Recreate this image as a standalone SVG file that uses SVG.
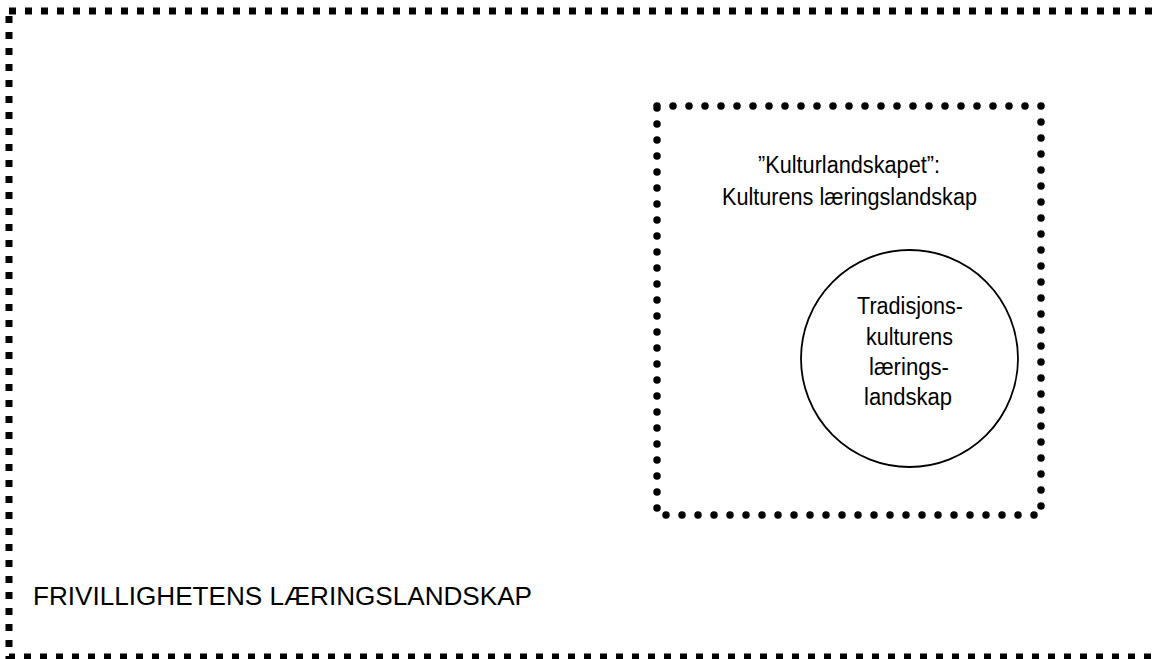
<svg xmlns="http://www.w3.org/2000/svg" width="1157" height="659" viewBox="0 0 1157 659">
<style>
text{font-family:"Liberation Sans",Arial,sans-serif;fill:#000}
.outer{fill:none;stroke:#000;stroke-width:7;stroke-dasharray:7 9}
.inner{fill:none;stroke:#000;stroke-width:7.5;stroke-linecap:round;stroke-dasharray:0 16}
.circ{fill:#fff;stroke:#000;stroke-width:1.8}
.t{font-size:23px}
</style>
<rect width="1157" height="659" fill="#fff"/>
<g id="frivillighet">
<rect class="outer" x="9" y="11" width="1152" height="646"/>
<text x="33" y="605" font-size="26.5" textLength="499" lengthAdjust="spacingAndGlyphs">FRIVILLIGHETENS LÆRINGSLANDSKAP</text>
</g>
<g id="kulturlandskapet">
<rect class="inner" x="657" y="106" width="384" height="409"/>
<text class="t" x="758" y="173" textLength="182" lengthAdjust="spacingAndGlyphs">”Kulturlandskapet”:</text>
<text class="t" x="722" y="205" textLength="255" lengthAdjust="spacingAndGlyphs">Kulturens læringslandskap</text>
</g>
<g id="tradisjonskultur">
<circle class="circ" cx="909.5" cy="358.5" r="108.5"/>
<text class="t" x="857" y="314" textLength="106" lengthAdjust="spacingAndGlyphs">Tradisjons-</text>
<text class="t" x="866" y="345" textLength="87" lengthAdjust="spacingAndGlyphs">kulturens</text>
<text class="t" x="869" y="375" textLength="80" lengthAdjust="spacingAndGlyphs">lærings-</text>
<text class="t" x="864" y="405" textLength="88" lengthAdjust="spacingAndGlyphs">landskap</text>
</g>
<g id="connectors"></g>
</svg>
